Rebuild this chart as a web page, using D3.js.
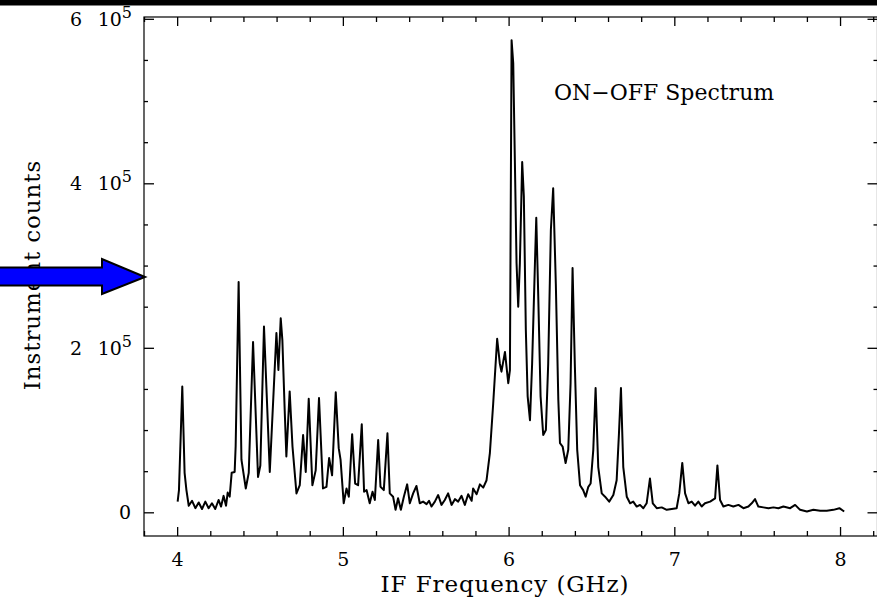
<!DOCTYPE html>
<html>
<head>
<meta charset="utf-8">
<script src="https://cdn.jsdelivr.net/npm/d3@7"></script>
<style>
  body { margin: 0; background: #fff; }
  svg { display: block; }
  text { font-family: "DejaVu Serif", serif; fill: #000; }
</style>
</head>
<body>
<svg id="chart" width="877" height="600"></svg>
<script>
// IF frequency (GHz) and ON-OFF counts (in units of 10^3)
const freqGHz = [
  4.003, 4.011, 4.031, 4.045, 4.056,
  4.07, 4.09, 4.11, 4.13, 4.15, 4.17, 4.19, 4.21, 4.23, 4.25, 4.265, 4.28, 4.295, 4.305,
  4.317, 4.329, 4.347, 4.353, 4.371, 4.388, 4.414, 4.432, 4.458, 4.488, 4.502, 4.524, 4.559,
  4.599, 4.611, 4.625, 4.635, 4.649, 4.659, 4.679, 4.696, 4.720, 4.740, 4.760, 4.776, 4.794,
  4.816, 4.836, 4.856, 4.880, 4.901, 4.917, 4.935, 4.957, 4.975, 4.986, 5.005, 5.022, 5.036,
  5.056, 5.074, 5.092, 5.114, 5.128, 5.143, 5.162, 5.179, 5.193, 5.213, 5.227, 5.247, 5.269,
  5.283, 5.303, 5.318, 5.333, 5.350, 5.368, 5.388, 5.404, 5.424, 5.444, 5.464, 5.484, 5.505,
  5.520, 5.535, 5.555, 5.575, 5.595, 5.615, 5.635, 5.656, 5.676, 5.696, 5.716, 5.736, 5.756, 5.777,
  5.786, 5.807, 5.827, 5.847, 5.867, 5.887, 5.907, 5.931, 5.947, 5.957, 5.978, 5.998, 6.008,
  6.018, 6.028, 6.038, 6.048, 6.058, 6.068, 6.082, 6.092, 6.104, 6.115, 6.129, 6.142, 6.159,
  6.167, 6.179, 6.193, 6.209, 6.225, 6.239, 6.255, 6.269, 6.285, 6.300, 6.310, 6.326, 6.344,
  6.360, 6.374, 6.386, 6.400, 6.414, 6.431, 6.450, 6.465, 6.481, 6.495, 6.511, 6.525, 6.541,
  6.562, 6.582, 6.607, 6.632, 6.652, 6.666, 6.678, 6.692, 6.713, 6.733, 6.752, 6.773, 6.793,
  6.813, 6.833, 6.853, 6.870, 6.894, 6.924, 6.954, 6.984, 7.014, 7.030, 7.048, 7.065, 7.085,
  7.105, 7.125, 7.145, 7.165, 7.185, 7.216, 7.246, 7.260, 7.276, 7.296, 7.326, 7.356, 7.387,
  7.417, 7.447, 7.467, 7.487, 7.507, 7.537, 7.568, 7.598, 7.628, 7.658, 7.699, 7.729, 7.759,
  7.800, 7.839, 7.880, 7.920, 7.960, 7.996, 8.025
];
const countsK = [
  13, 27, 153, 48, 27,
  8, 14, 5, 12, 4, 13, 5, 11, 4, 15, 7, 20, 8, 24,
  19, 48, 49, 80, 280, 64, 29, 48, 207, 43, 57, 226, 49,
  218, 173, 236, 209, 124, 68, 147, 80, 23, 33, 94, 49, 138,
  33, 51, 139, 29, 31, 66, 45, 146, 78, 64, 11, 29, 19,
  95, 35, 33, 107, 25, 27, 11, 25, 15, 88, 31, 27, 96,
  23, 19, 3, 17, 3, 19, 34, 11, 23, 32, 11, 13, 10,
  14, 7, 13, 21, 9, 15, 23, 9, 16, 13, 20, 9, 22, 14,
  29, 22, 34, 30, 39, 72, 132, 211, 181, 171, 195, 157, 173,
  574, 546, 425, 303, 250, 303, 426, 384, 222, 141, 112, 181, 303,
  358, 262, 141, 94, 100, 181, 343, 394, 278, 137, 84, 80, 60,
  76, 157, 297, 177, 76, 33, 27, 19, 31, 35, 76, 151, 55,
  23, 19, 13, 21, 39, 96, 151, 55, 19, 11, 13, 7, 9,
  5, 11, 41, 11, 5, 6, 3, 4, 5, 23, 60, 23, 11,
  13, 8, 13, 7, 11, 13, 17, 57, 15, 7, 9, 7, 9,
  5, 7, 11, 16, 7, 6, 5, 6, 5, 7, 5, 9, 3,
  1, 3, 2, 2, 3, 5, 1
];

const xMajorTicks = [4, 5, 6, 7, 8];
const xTickLabels = ["4", "5", "6", "7", "8"];
const yMajorTicks = [0, 200, 400, 600];
const yTickMantissa = ["0", "2", "4", "6"];
const yTickExponent = "5";
const xTitle = "IF Frequency (GHz)";
const yTitle = "Instrument counts";
const plotLabel = "ON\u2212OFF Spectrum";

const svg = d3.select("#chart");
const plotL = 144, plotR = 877.5, plotT = 17, plotB = 536;

const x = d3.scaleLinear().domain([3.8, 8.226]).range([plotL, plotR]);
const y = d3.scaleLinear().domain([-28.8, 602.2]).range([plotB, plotT]);

const xMinor = d3.range(38, 83, 2).map(d => d / 10).filter(d => !xMajorTicks.includes(d));
const yMinor = d3.range(50, 601, 50).filter(d => !yMajorTicks.includes(d));

// black strip along the top edge
svg.append("rect").attr("x", 0).attr("y", 0).attr("width", 877).attr("height", 5.5).attr("fill", "#000");

// frame
svg.append("rect")
  .attr("x", plotL).attr("y", plotT)
  .attr("width", plotR - plotL).attr("height", plotB - plotT)
  .attr("fill", "none").attr("stroke", "#000").attr("stroke-width", 1.2);

function addAxis(axis, transform) {
  const g = svg.append("g").attr("transform", transform).call(axis);
  g.select(".domain").remove();
  g.selectAll(".tick line").attr("stroke", "#000").attr("stroke-width", 1.3);
  return g;
}

// x axes, ticks pointing inward
addAxis(d3.axisBottom(x).tickValues(xMinor).tickSize(-5).tickFormat(""), `translate(0,${plotB})`);
const xb = addAxis(d3.axisBottom(x).tickValues(xMajorTicks).tickSize(-9).tickPadding(16.5)
  .tickFormat((d, i) => xTickLabels[i]), `translate(0,${plotB})`);
xb.selectAll("text").attr("font-family", "DejaVu Serif").attr("font-size", 19).attr("fill", "#000");
addAxis(d3.axisTop(x).tickValues(xMinor).tickSize(-5).tickFormat(""), `translate(0,${plotT})`);
addAxis(d3.axisTop(x).tickValues(xMajorTicks).tickSize(-9).tickFormat(""), `translate(0,${plotT})`);

// y axes
addAxis(d3.axisLeft(y).tickValues(yMinor).tickSize(-4).tickFormat(""), `translate(${plotL},0)`);
addAxis(d3.axisLeft(y).tickValues(yMajorTicks).tickSize(-10).tickFormat(""), `translate(${plotL},0)`);
addAxis(d3.axisRight(y).tickValues(yMinor).tickSize(-4).tickFormat(""), `translate(${plotR},0)`);
addAxis(d3.axisRight(y).tickValues(yMajorTicks).tickSize(-10).tickFormat(""), `translate(${plotR},0)`);

// y tick labels like "4 10^5"
yMajorTicks.forEach((v, i) => {
  const base = y(v) + 7;
  if (v === 0) {
    svg.append("text").attr("x", 131).attr("y", base).attr("text-anchor", "end")
      .attr("font-size", 19).text(yTickMantissa[i]);
    return;
  }
  svg.append("text").attr("x", 82).attr("y", base).attr("text-anchor", "end")
    .attr("font-size", 19).text(yTickMantissa[i]);
  const t = svg.append("text").attr("x", 132).attr("y", base).attr("text-anchor", "end").attr("font-size", 19);
  t.append("tspan").text("10");
  t.append("tspan").attr("dy", -8).attr("font-size", 16).text(yTickExponent);
});

// spectrum
const line = d3.line()
  .x(i => x(freqGHz[i]))
  .y(i => y(countsK[i]));
svg.append("path")
  .datum(d3.range(freqGHz.length))
  .attr("d", line)
  .attr("fill", "none")
  .attr("stroke", "#000")
  .attr("stroke-width", 2)
  .attr("stroke-linejoin", "round");

// titles
svg.append("text").attr("x", 505).attr("y", 592).attr("text-anchor", "middle")
  .attr("font-size", 23).attr("letter-spacing", 0.9).text(xTitle);
svg.append("text").attr("transform", "translate(40,275) rotate(-90)").attr("text-anchor", "middle")
  .attr("font-size", 23).attr("letter-spacing", 0.9).text(yTitle);
svg.append("text").attr("x", 554).attr("y", 100).attr("font-size", 22).text(plotLabel);

// blue arrow pointing at the axis
svg.append("path")
  .attr("d", "M-3,267.5 L102,267.5 L102,259 L145,277 L102,294 L102,285.5 L-3,285.5 Z")
  .attr("fill", "#0000ff")
  .attr("stroke", "#000")
  .attr("stroke-width", 2);
</script>
</body>
</html>
